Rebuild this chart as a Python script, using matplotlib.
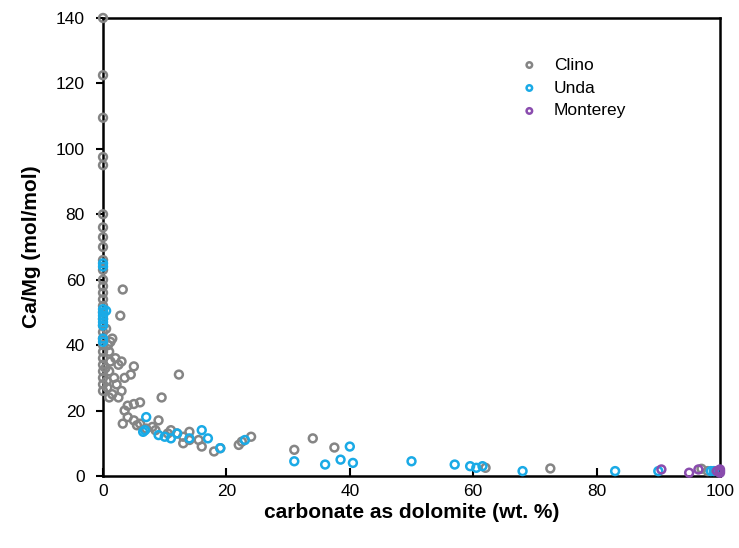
import numpy as np
import matplotlib
matplotlib.use('Agg')
import matplotlib.pyplot as plt

plt.rcParams['font.family'] = ['Liberation Sans', 'DejaVu Sans']

# Clino
clino_x = [0, 0, 0, 0, 0, 0, 0, 0, 0, 0, 0, 0, 0, 0, 0, 0, 0, 0, 0, 0, 0, 0, 0, 0, 0, 0, 0, 0, 0,
           0.5, 0.8, 1.0, 1.5, 1.2, 2.0, 2.5, 1.0, 1.8, 2.2, 0.7, 1.5, 3.0, 3.5, 2.8, 3.2, 1.2,
           0.4, 0.6, 2.5, 5.0, 4.5, 3.0, 1.0,
           5.0, 4.0, 3.5, 6.0, 4.0, 3.2, 5.0, 5.5, 7.0, 6.0, 8.0, 9.0, 9.5, 12.3, 11.0, 10.5,
           12.0, 13.0, 14.0, 14.0, 15.5, 16.0, 18.0, 19.0, 22.0, 22.5, 24.0, 13.0, 8.5,
           31.0, 34.0, 37.5, 62.0, 72.5, 97.0, 98.0]
clino_y = [140, 122.5, 109.5, 97.5, 95, 80, 76, 73, 70, 66, 63, 60, 58, 56, 54, 52, 50, 48, 46,
           44, 42, 40, 38, 36, 34, 32, 30, 28, 26,
           45, 40, 38, 42, 35, 36, 34, 32, 30, 28, 27, 25, 35, 30, 49, 57, 41,
           33, 29, 24, 33.5, 31, 26, 24,
           22, 21.5, 20, 22.5, 18, 16, 17, 15.5, 14.5, 16, 15, 17, 24, 31, 14, 13,
           13, 12, 13.5, 11, 11, 9, 7.5, 8.5, 9.5, 10.5, 12, 10, 14,
           8, 11.5, 8.7, 2.5, 2.3, 2.2, 1.5]

# Unda
unda_x = [0, 0, 0, 0, 0, 0, 0, 0, 0, 0, 0.5,
          7.0, 6.5, 6.8, 10.0, 11.0, 12.0, 14.0, 16.0, 17.0, 19.0, 23.0, 9.0,
          31.0, 36.0, 38.5, 40.0, 40.5, 50.0, 57.0, 59.5, 60.5, 61.5, 68.0, 83.0, 90.0,
          98.5, 99.0, 99.5]
unda_y = [65, 64, 51, 50, 49, 48, 47, 46, 42, 41, 50.5,
          18, 13.5, 14, 12, 11.5, 13, 11.5, 14, 11.5, 8.5, 11, 12.5,
          4.5, 3.5, 5, 9, 4, 4.5, 3.5, 3, 2.5, 3, 1.5, 1.5, 1.5,
          1.5, 1.5, 1.5]

# Monterey
mont_x = [90.5, 95.0, 96.5, 99.5, 100.0, 100.0, 100.0]
mont_y = [2.0, 1.0, 2.0, 1.5, 1.5, 2.0, 1.0]

fig = plt.figure(figsize=(7.39, 5.48), dpi=100)
ax = fig.add_axes([0.1394, 0.1314, 0.8349, 0.8358])

mk = dict(marker='o', s=32, facecolors='none', linewidths=1.8, clip_on=False)
ax.scatter(clino_x, clino_y, edgecolors='#858585', label='Clino', zorder=3, **mk)
ax.scatter(unda_x, unda_y, edgecolors='#1aaae6', label='Unda', zorder=4, **mk)
ax.scatter(mont_x, mont_y, edgecolors='#8a4cae', label='Monterey', zorder=5, **mk)

ax.set_xlim(0, 100)
ax.set_ylim(0, 140)
ax.set_xticks(np.arange(0, 101, 20))
ax.set_yticks(np.arange(0, 141, 20))
ax.tick_params(axis='x', direction='in', length=6, width=1.5, labelsize=12.5, pad=6)
ax.tick_params(axis='y', direction='out', length=5, width=1.5, labelsize=12.5, pad=8)
for sp in ax.spines.values():
    sp.set_linewidth(1.8)

ax.set_xlabel('carbonate as dolomite (wt. %)', fontsize=15, fontweight='bold', labelpad=3)
ax.set_ylabel('Ca/Mg (mol/mol)', fontsize=15, fontweight='bold', labelpad=11)

ax.legend(loc='upper right', bbox_to_anchor=(0.873, 0.948), frameon=False, fontsize=12.5,
          markerscale=0.7, handletextpad=0.4, labelspacing=0.45)

plt.savefig('out.png')
